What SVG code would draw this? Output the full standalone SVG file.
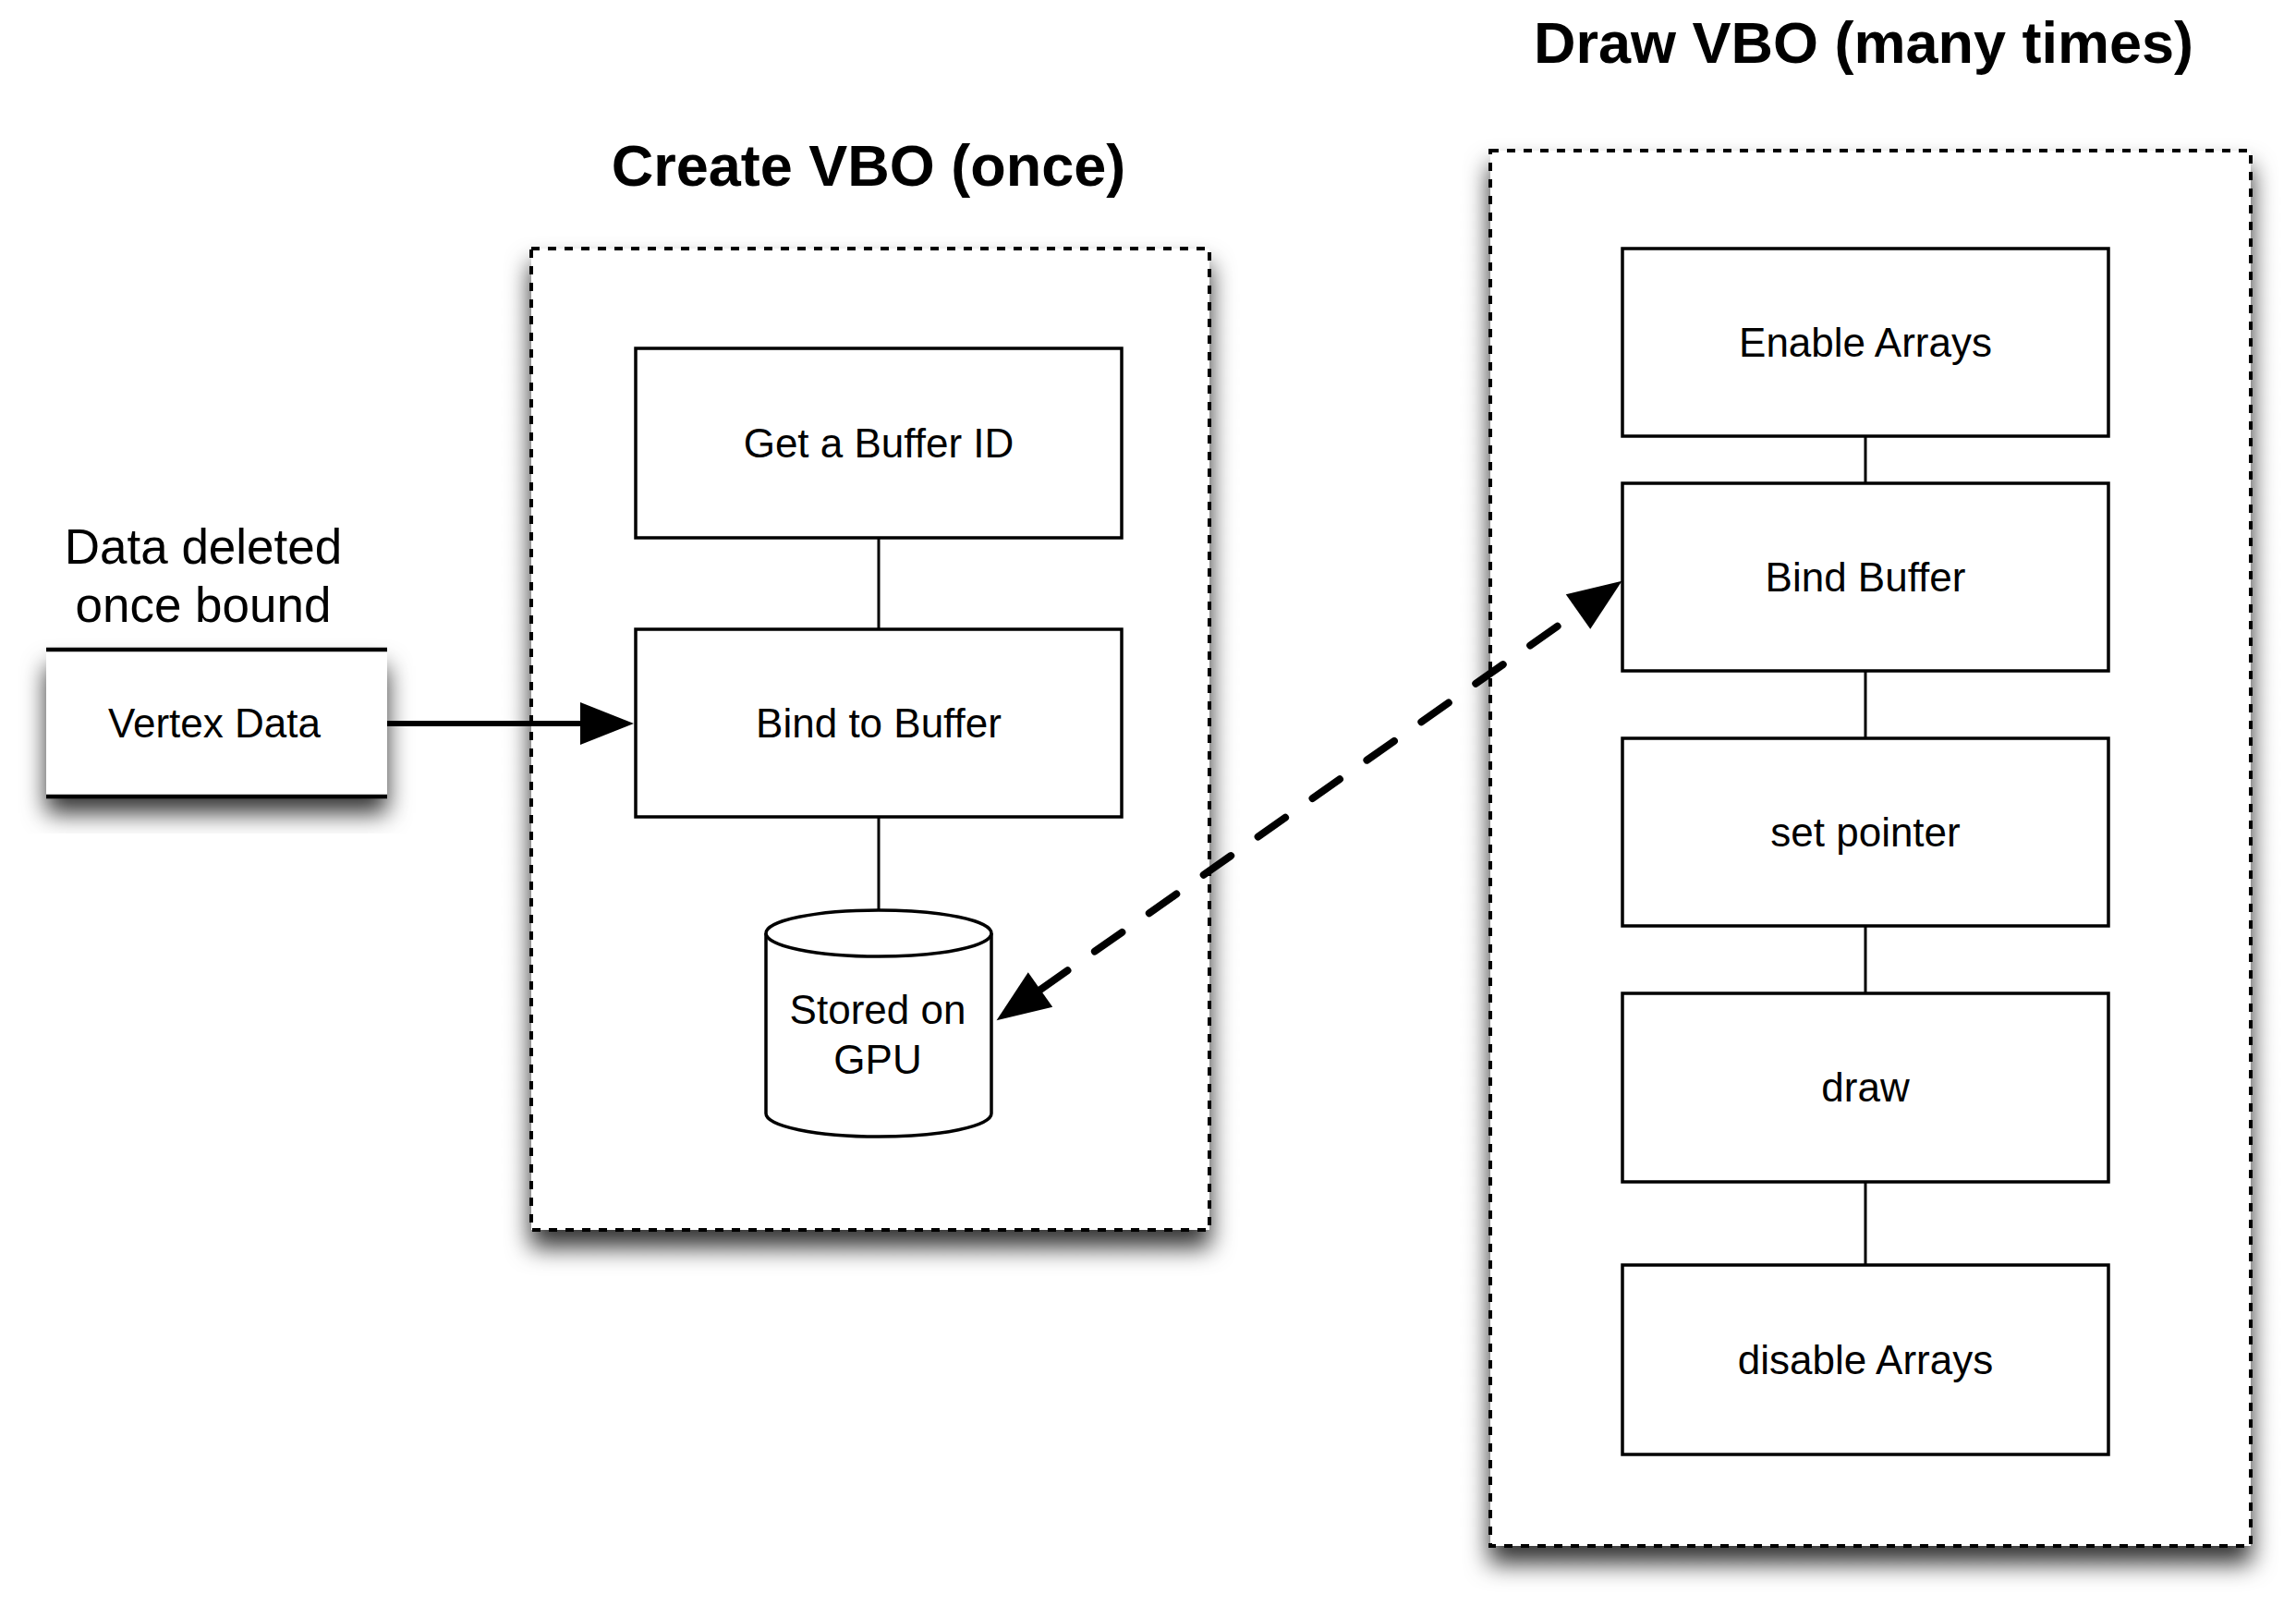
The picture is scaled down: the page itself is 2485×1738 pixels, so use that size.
<svg xmlns="http://www.w3.org/2000/svg" width="2485" height="1738" viewBox="0 0 2485 1738">
<defs>
<style>
text{font-family:"Liberation Sans",Arial,sans-serif;fill:#000}
.lbl{font-size:44px;text-anchor:middle}
.ttl{font-size:63px;font-weight:bold;text-anchor:middle}
.box{fill:#fff;stroke:#000;stroke-width:3.5}
.cont{fill:#fff;stroke:#000;stroke-width:4;stroke-dasharray:9 9}
.link{stroke:#000;stroke-width:3;fill:none}
</style>
<filter id="sh" x="-15%" y="-15%" width="130%" height="140%">
<feDropShadow dx="0" dy="18" stdDeviation="13" flood-color="#000" flood-opacity="0.8"/>
</filter>
<marker id="ah" viewBox="0 0 58 46" refX="0" refY="23" markerUnits="userSpaceOnUse" markerWidth="58" markerHeight="46" orient="auto-start-reverse" overflow="visible">
<path d="M0,0 L58,23 L0,46 Z" fill="#000"/>
</marker>
</defs>
<rect width="2485" height="1738" fill="#fff"/>

<g id="create-vbo">
<rect class="cont" x="575" y="269" width="734" height="1062" filter="url(#sh)"/>
<text class="ttl" x="940" y="201">Create VBO (once)</text>
</g>
<g id="draw-vbo">
<rect class="cont" x="1613" y="163" width="823" height="1510" filter="url(#sh)"/>
<text class="ttl" x="2017" y="68">Draw VBO (many times)</text>
</g>

<g id="connectors">
<line class="link" x1="951" y1="582" x2="951" y2="681"/>
<line class="link" x1="951" y1="884" x2="951" y2="986"/>
<line class="link" x1="2019" y1="472" x2="2019" y2="523"/>
<line class="link" x1="2019" y1="726" x2="2019" y2="799"/>
<line class="link" x1="2019" y1="1002" x2="2019" y2="1075"/>
<line class="link" x1="2019" y1="1279" x2="2019" y2="1369"/>
<line x1="415" y1="783" x2="628" y2="783" stroke="#000" stroke-width="6" stroke-linecap="round" marker-end="url(#ah)"/>
<line x1="1126" y1="1071" x2="1708" y2="662" stroke="#000" stroke-width="8" stroke-linecap="round" stroke-dasharray="36 36" marker-start="url(#ah)" marker-end="url(#ah)"/>
</g>

<g id="vertex-data">
<rect x="50" y="703" width="369" height="159" fill="#fff" filter="url(#sh)"/>
<line x1="50" y1="703" x2="419" y2="703" stroke="#000" stroke-width="4.5"/>
<line x1="50" y1="862" x2="419" y2="862" stroke="#000" stroke-width="4.5"/>
<text class="lbl" x="232" y="798">Vertex Data</text>
</g>
<g id="data-deleted-note">
<text x="220" y="610" style="font-size:53px;text-anchor:middle">Data deleted</text>
<text x="220" y="673" style="font-size:53px;text-anchor:middle">once bound</text>
</g>

<g id="get-buffer-id">
<rect class="box" x="688" y="377" width="526" height="205"/>
<text class="lbl" x="951" y="495">Get a Buffer ID</text>
</g>
<g id="bind-to-buffer">
<rect class="box" x="688" y="681" width="526" height="203"/>
<text class="lbl" x="951" y="798">Bind to Buffer</text>
</g>
<g id="stored-on-gpu">
<path class="box" d="M829,1010 A122,25 0 0 1 1073,1010 L1073,1205 A122,25 0 0 1 829,1205 Z"/>
<path class="box" d="M829,1010 A122,25 0 0 0 1073,1010" fill="none"/>
<text class="lbl" x="950" y="1108">Stored on</text>
<text class="lbl" x="950" y="1162">GPU</text>
</g>

<g id="enable-arrays">
<rect class="box" x="1756" y="269" width="526" height="203"/>
<text class="lbl" x="2019" y="386">Enable Arrays</text>
</g>
<g id="bind-buffer">
<rect class="box" x="1756" y="523" width="526" height="203"/>
<text class="lbl" x="2019" y="640">Bind Buffer</text>
</g>
<g id="set-pointer">
<rect class="box" x="1756" y="799" width="526" height="203"/>
<text class="lbl" x="2019" y="916">set pointer</text>
</g>
<g id="draw">
<rect class="box" x="1756" y="1075" width="526" height="204"/>
<text class="lbl" x="2019" y="1192">draw</text>
</g>
<g id="disable-arrays">
<rect class="box" x="1756" y="1369" width="526" height="205"/>
<text class="lbl" x="2019" y="1487">disable Arrays</text>
</g>
</svg>
